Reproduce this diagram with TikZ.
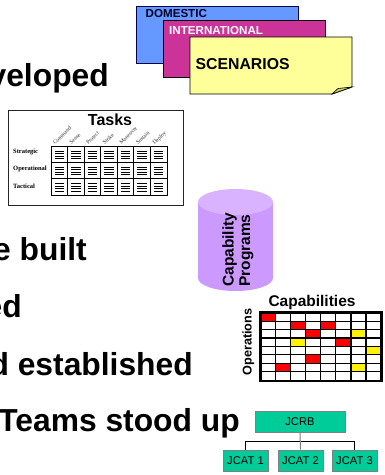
\documentclass[tikz,border=0pt]{standalone}
\usepackage{fontspec}
\setmainfont{Liberation Sans}
\newfontfamily\serifface{Liberation Serif}
\definecolor{dblue}{HTML}{6699FF}
\definecolor{dmag}{HTML}{CC3399}
\definecolor{dyel}{HTML}{FFFF99}
\definecolor{dfold}{HTML}{CCCC66}
\definecolor{dcyl}{HTML}{CC99FF}
\definecolor{dcyltop}{HTML}{D9B3FF}
\definecolor{dteal}{HTML}{00CC99}
\tikzset{
  x=1pt,y=-1pt,
  bigtext/.style={font=\fontsize{31.8}{32}\selectfont\bfseries,anchor=base east,inner sep=0pt},
  card/.style={draw=black,line width=0.9pt},
  cardlabel/.style={font=\fontsize{11.6}{12}\selectfont\bfseries,anchor=base west,inner sep=0pt},
  rowlabel/.style={font=\serifface\fontsize{6.5}{6.5}\selectfont\bfseries,anchor=base west,inner sep=0pt},
  collabel/.style={font=\serifface\fontsize{5.6}{6}\selectfont,anchor=base west,inner sep=0pt,rotate=45,text=black!80},
  sidetext/.style={font=\fontsize{15.5}{16}\selectfont\bfseries,rotate=90,anchor=base west,inner sep=0pt},
  orgbox/.style={draw=gray,line width=1pt,fill=dteal,font=\fontsize{11.2}{11.2}\selectfont,inner sep=0pt,minimum height=21pt},
}
\begin{document}
\begin{tikzpicture}
\useasboundingbox (0,0) rectangle (384,475);
\clip (0,0) rectangle (384,475);
\fill[white] (0,0) rectangle (384,475);
% bullet texts
\node[bigtext] (t1) at (109,86) {veloped};
\node[bigtext] (t2) at (87,260) {e built};
\node[bigtext] (t3) at (22,317) {ed};
\node[bigtext] (t4) at (193,375) {d established};
\node[bigtext] (t5) at (240,431.5) {Teams stood up};
% scenario cards
\draw[card,draw=black!70!blue,fill=dblue] (136,6) rectangle (298,63);
\node[cardlabel,text=black!85!blue] (dom) at (145.5,17) {DOMESTIC};
\draw[card,fill=dmag] (163,20) rectangle (325,77);
\node[cardlabel,text=white] (int) at (169,34) {INTERNATIONAL};
\draw[card,fill=dyel] (190,37) -- (352,37) -- (352,87) -- (332,94) -- (190,94) -- cycle;
\draw[card,line width=0.6pt,fill=dfold] (332,94) -- (352,87) -- (338,88.5) -- cycle;
\node[cardlabel,font=\fontsize{15.8}{16}\selectfont\bfseries] (sc) at (195.5,69) {SCENARIOS};
% tasks
\draw[black!85,line width=0.9pt,fill=white] (8,110) rectangle (183,205);
\node[font=\fontsize{16}{16}\selectfont\bfseries,inner sep=0pt] (tasks) at (110,120) {Tasks};
\foreach \lab/\yy in {Strategic/153,Operational/170,Tactical/188}
  \node[rowlabel] (r\lab) at (13,\yy) {\lab};
\foreach \lab [count=\i from 0] in {Command,Sense,Protect,Strike,Maneuver,Sustain,Deploy}
  \node[collabel] (c\i) at ({55+\i*16.6},145) {\lab};
\foreach \i in {0,...,6} \foreach \j in {0,1,2} {
  \foreach \k in {0,1,2,3}
    \draw[black,line width=0.55pt] ({51+\i*16.57+3.5},{146+\j*16.33+5+\k*2.4}) -- ++(9.5,0);
}
\draw[black,line width=0.8pt] (51,146) rectangle (167,195);
\foreach \i in {1,...,6} \draw[black,line width=0.8pt] ({51+\i*16.57},146) -- ({51+\i*16.57},195);
\foreach \j in {1,2} \draw[black,line width=0.8pt] (51,{146+\j*16.33}) -- (167,{146+\j*16.33});
% cylinder
\fill[dcyl] (198,202) rectangle (273,278);
\fill[dcyl] (235.5,278) ellipse[x radius=37.5,y radius=13];
\fill[dcyltop] (235.5,202) ellipse[x radius=37.5,y radius=13];
\node[sidetext] (capa) at (233.5,287) {Capability};
\node[sidetext] (prog) at (250,287) {Programs};
% capabilities matrix
\node[font=\fontsize{15.5}{16}\selectfont\bfseries,inner sep=0pt] (capt) at (312,302) {Capabilities};
\node[font=\fontsize{12.7}{13}\selectfont\bfseries,rotate=90,anchor=base,inner sep=0pt] (ops) at (251.5,342) {Operations};
\foreach \c/\r/\col in {1/1/red,3/2/red,5/2/red,4/3/red,7/3/yellow,3/4/yellow,6/4/red,8/5/yellow,4/6/red,2/7/red,7/7/yellow}
  \fill[\col] ({260.3+(\c-1)*15.1},{312.8+(\r-1)*8.4}) rectangle ++(15.1,8.4);
\foreach \i in {1,...,7} \draw[black,line width=1.2pt] ({260.3+\i*15.1},312) -- ({260.3+\i*15.1},381);
\foreach \j in {1,...,7} \draw[black,line width=1.2pt] (260,{312.8+\j*8.4}) -- (382,{312.8+\j*8.4});
\draw[black,line width=2.6pt] (260.3,312.3) rectangle (381.7,381);
% org chart
\node[orgbox,minimum width=90pt] (jcrb) at (300,421.5) {JCRB};
\node[orgbox,minimum width=45pt] (j1) at (245.5,460.5) {JCAT 1};
\node[orgbox,minimum width=45pt] (j2) at (300.5,460.5) {JCAT 2};
\node[orgbox,minimum width=45pt] (j3) at (354.5,460.5) {JCAT 3};
\draw[black,line width=0.8pt] (j1.north) |- (j3.north |- 0,441) -- (j3.north);
\draw[gray,line width=1pt] (jcrb.south) -- (j2.north);
\end{tikzpicture}
\end{document}
